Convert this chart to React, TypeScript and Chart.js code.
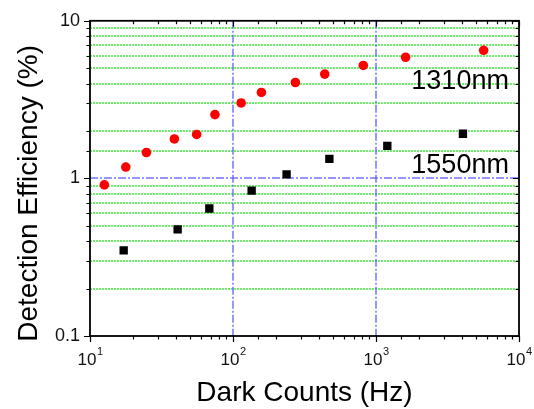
import React, { useEffect, useRef } from "react";
import { Chart, registerables } from "chart.js";

Chart.register(...registerables);

// Data
const darkCounts1310 = [12.6, 17.8, 24.8, 38.9, 55.7, 74.8, 114, 158, 273, 438, 815, 1611, 5660];
const efficiency1310 = [0.91, 1.18, 1.46, 1.78, 1.9, 2.54, 3.01, 3.51, 4.06, 4.59, 5.21, 5.87, 6.5];
const darkCounts1550 = [17.2, 41.0, 68.3, 135, 237, 472, 1200, 4055];
const efficiency1550 = [0.349, 0.475, 0.644, 0.837, 1.06, 1.33, 1.61, 1.92];

const xMin = 10;
const xMax = 10000;
const yMin = 0.1;
const yMax = 10;
const xTickExponents = ["1", "2", "3", "4"];
const yTickLabels = ["0.1", "1", "10"];

const seriesLabels = ["1310nm", "1550nm"];
const seriesLabelX = [8500, 8500];
const seriesLabelY = [3.68, 1.09];

const xTitle = "Dark Counts (Hz)";
const yTitle = "Detection Efficiency (%)";

const FONT = 'Arial, "Liberation Sans", sans-serif';
const BLUE = "rgba(90,90,255,0.85)";
const GREEN = "rgb(60,235,60)";

const isPow10 = (v: number) => {
  const l = Math.log10(v);
  return Math.abs(l - Math.round(l)) < 1e-6;
};

const gridPlugin = {
  id: "customGrid",
  beforeDatasetsDraw(chart: any) {
    const { ctx, chartArea } = chart;
    const { left, right, top, bottom } = chartArea;
    const xs = chart.scales.x;
    const ys = chart.scales.y;
    ctx.save();
    // horizontal lines
    ys.ticks.forEach((t: any) => {
      const v = t.value;
      if (v <= yMin * 1.0001 || v >= yMax * 0.9999) return;
      const major = isPow10(v);
      const py = Math.round(ys.getPixelForValue(v));
      ctx.lineWidth = major ? 1.5 : 1.6;
      ctx.strokeStyle = major ? BLUE : GREEN;
      ctx.setLineDash(major ? [8, 2, 2, 2] : [2, 1]);
      ctx.beginPath();
      ctx.moveTo(left, py);
      ctx.lineTo(right, py);
      ctx.stroke();
    });
    // vertical lines (majors only)
    ctx.lineWidth = 1.5;
    xs.ticks.forEach((t: any) => {
      const v = t.value;
      if (v <= xMin * 1.0001 || v >= xMax * 0.9999 || !isPow10(v)) return;
      const px = Math.round(xs.getPixelForValue(v));
      ctx.strokeStyle = BLUE;
      ctx.setLineDash([8, 2, 2, 2]);
      ctx.beginPath();
      ctx.moveTo(px, top);
      ctx.lineTo(px, bottom);
      ctx.stroke();
    });
    ctx.restore();
  },
};

const framePlugin = {
  id: "frame",
  afterDatasetsDraw(chart: any) {
    const { ctx, chartArea } = chart;
    const { left, right, top, bottom } = chartArea;
    const xs = chart.scales.x;
    const ys = chart.scales.y;
    ctx.save();
    ctx.setLineDash([]);
    ctx.strokeStyle = "#000";
    ctx.lineWidth = 1.8;
    ctx.strokeRect(left, top, right - left, bottom - top);
    ctx.lineWidth = 1.2;
    ctx.beginPath();
    xs.ticks.forEach((t: any) => {
      const px = Math.round(xs.getPixelForValue(t.value)) + 0.5;
      const len = isPow10(t.value) ? 6 : 3.5;
      ctx.moveTo(px, bottom);
      ctx.lineTo(px, bottom + len);
      ctx.moveTo(px, top);
      ctx.lineTo(px, top + len);
    });
    ys.ticks.forEach((t: any) => {
      const py = Math.round(ys.getPixelForValue(t.value)) + 0.5;
      const len = isPow10(t.value) ? 6 : 3.5;
      ctx.moveTo(left - len, py);
      ctx.lineTo(left, py);
      ctx.moveTo(right - len, py);
      ctx.lineTo(right, py);
    });
    ctx.stroke();

    // x tick labels 10^n
    ctx.fillStyle = "#111";
    ctx.textBaseline = "alphabetic";
    xTickExponents.forEach((e, i) => {
      const v = Math.pow(10, i + 1);
      const px = xs.getPixelForValue(v);
      ctx.font = `17px ${FONT}`;
      const wBase = ctx.measureText("10").width;
      ctx.font = `11px ${FONT}`;
      const wExp = ctx.measureText(e).width;
      const start = px - (wBase + wExp) / 2;
      ctx.font = `17px ${FONT}`;
      ctx.textAlign = "left";
      ctx.fillText("10", start, bottom + 29);
      ctx.font = `11px ${FONT}`;
      ctx.fillText(e, start + wBase + 0.5, bottom + 19);
    });

    // series labels
    ctx.font = `27px ${FONT}`;
    ctx.textAlign = "right";
    ctx.textBaseline = "alphabetic";
    ctx.fillStyle = "#000";
    seriesLabels.forEach((s, i) => {
      ctx.fillText(s, xs.getPixelForValue(seriesLabelX[i]), ys.getPixelForValue(seriesLabelY[i]));
    });

    // axis titles
    ctx.font = `28px ${FONT}`;
    ctx.textAlign = "center";
    ctx.textBaseline = "middle";
    ctx.fillText(xTitle, (left + right) / 2, bottom + 57);
    ctx.save();
    ctx.translate(29, (top + bottom) / 2 + 15);
    ctx.rotate(-Math.PI / 2);
    ctx.fillText(yTitle, 0, 0);
    ctx.restore();
    ctx.restore();
  },
};

export default function App() {
  const ref = useRef<HTMLCanvasElement | null>(null);
  useEffect(() => {
    if (!ref.current) return;
    const chart = new Chart(ref.current, {
      type: "scatter",
      data: {
        datasets: [
          {
            label: seriesLabels[0],
            data: darkCounts1310.map((x, i) => ({ x, y: efficiency1310[i] })),
            backgroundColor: "#ff0000",
            borderWidth: 0,
            pointStyle: "circle",
            pointRadius: 4.8,
          },
          {
            label: seriesLabels[1],
            data: darkCounts1550.map((x, i) => ({ x, y: efficiency1550[i] })),
            backgroundColor: "#000000",
            borderWidth: 0,
            pointStyle: "rect",
            pointRadius: 5.9,
          },
        ],
      },
      plugins: [gridPlugin, framePlugin],
      options: {
        animation: false,
        responsive: false,
        events: [],
        layout: { padding: { left: 0, top: 18, right: 15, bottom: 0 } },
        plugins: { legend: { display: false }, tooltip: { enabled: false } },
        scales: {
          x: {
            type: "logarithmic",
            min: xMin,
            max: xMax,
            position: "bottom",
            afterFit: (s: any) => {
              s.height = 73;
            },
            ticks: { display: false, autoSkip: false },
            border: { display: false },
            grid: { display: false, drawTicks: false },
          },
          y: {
            type: "logarithmic",
            min: yMin,
            max: yMax,
            afterFit: (s: any) => {
              s.width = 90;
            },
            ticks: {
              autoSkip: false,
              padding: 10,
              color: "#111",
              font: { family: FONT, size: 18 },
              callback: (v: any) => {
                const n = Number(v);
                if (!isPow10(n)) return "";
                const idx = Math.round(Math.log10(n)) + 1;
                return yTickLabels[idx] ?? "";
              },
            },
            border: { display: false },
            grid: { display: false, drawTicks: false },
          },
        },
      },
    });
    return () => chart.destroy();
  }, []);
  return (
    <div style={{ position: "fixed", left: 0, top: 0, width: 534, height: 409, background: "#fff" }}>
      <canvas ref={ref} width={534} height={409} />
    </div>
  );
}
